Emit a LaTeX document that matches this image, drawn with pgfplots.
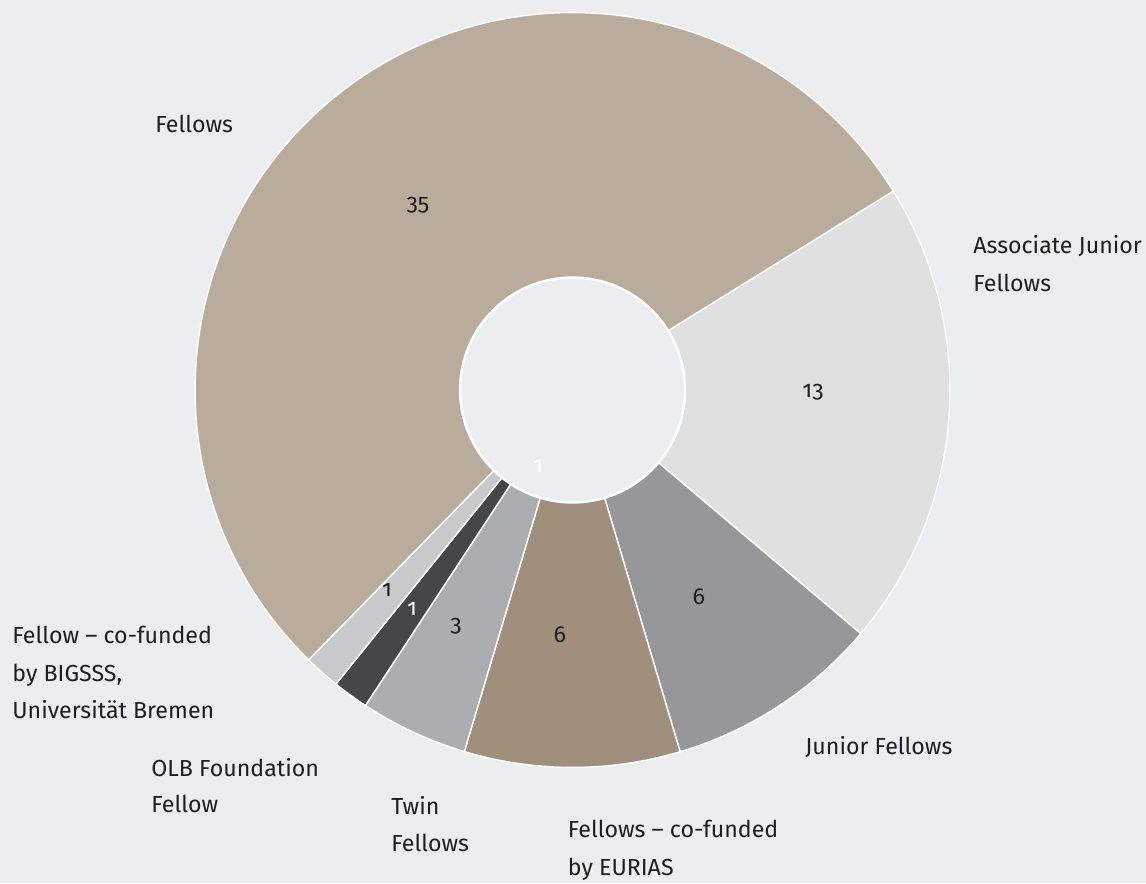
\documentclass[border=0pt]{standalone}
\usepackage{pgfplots}
\pgfplotsset{compat=1.18}
\usepackage{pgfplotstable}
\usepackage{fontspec}
\setmainfont{Fira Sans}[Numbers=OldStyle]

\definecolor{bgc}{HTML}{ECEDEE}
\definecolor{pie0}{HTML}{E0E0E1}% Associate Junior Fellows
\definecolor{pie1}{HTML}{96979A}% Junior Fellows
\definecolor{pie2}{HTML}{A08F7D}% EURIAS
\definecolor{pie3}{HTML}{ACADB0}% Twin
\definecolor{pie4}{HTML}{464648}% OLB
\definecolor{pie5}{HTML}{C8C9CB}% BIGSSS
\definecolor{pie6}{HTML}{B9AC9C}% Fellows
\definecolor{txt}{HTML}{1E1E1E}

\pgfplotstableread[col sep=comma]{
label,value
Associate Junior Fellows,13
Junior Fellows,6
Fellows co-funded by EURIAS,6
Twin Fellows,3
OLB Foundation Fellow,1
Fellow co-funded by BIGSSS,1
Fellows,35
}\piedata

\begin{document}
\fontsize{13.2}{20}\selectfont
\begin{tikzpicture}[font=\fontsize{13.2}{20}\selectfont]
% cumulative angles from the table values
\xdef\pietotal{0}
\foreach \i in {0,...,6}{%
  \pgfplotstablegetelem{\i}{value}\of\piedata
  \pgfmathsetmacro\tmp{\pietotal+\pgfplotsretval}%
  \xdef\pietotal{\tmp}%
}
\xdef\cumang{31.8}
\foreach \i in {0,...,6}{%
  \pgfplotstablegetelem{\i}{value}\of\piedata
  \pgfmathsetmacro\endang{\cumang-\pgfplotsretval*360/\pietotal}%
  \expandafter\xdef\csname sA\i\endcsname{\cumang}%
  \expandafter\xdef\csname eA\i\endcsname{\endang}%
  \xdef\cumang{\endang}%
}
\begin{axis}[
  x=0.02cm, y=0.02cm,
  xmin=0, xmax=1146, ymin=0, ymax=883,
  hide axis, clip=false,
]
\fill[bgc] (axis cs:0,0) rectangle (axis cs:1146,883);
\pgfplotsinvokeforeach{0,...,6}{%
  \filldraw[fill=pie#1, draw=white, line width=0.8pt, line join=round]
    (axis cs:572.5,493) -- ++(\csname sA#1\endcsname:7.55cm)
    arc[start angle=\csname sA#1\endcsname, end angle=\csname eA#1\endcsname, radius=7.55cm] -- cycle;
}
\filldraw[fill=bgc, draw=white, line width=1.4pt] (axis cs:572.5,493) circle[radius=2.25cm];

% value labels
\node[text=txt, inner sep=0pt] at (axis cs:418,678) {35};
\node[text=txt, inner sep=0pt] at (axis cs:813,491) {13};
\node[text=txt, inner sep=0pt] at (axis cs:699,286) {6};
\node[text=txt, inner sep=0pt] at (axis cs:560,248) {6};
\node[text=txt, inner sep=0pt] at (axis cs:456,257) {3};
\node[text=white, inner sep=0pt] at (axis cs:412,274) {1};
\node[text=txt, inner sep=0pt] at (axis cs:387,293) {1};
\node[text=white, inner sep=0pt] at (axis cs:538,417) {1};

% category labels (baselines)
\begin{scope}[every node/.style={anchor=base west, inner sep=0pt, text=txt}]
\node at (axis cs:155,750) {Fellows};
\node at (axis cs:973,629) {Associate Junior};
\node at (axis cs:973,591.3) {Fellows};
\node at (axis cs:805,129) {Junior Fellows};
\node at (axis cs:567.5,45.3) {Fellows – co-funded};
\node at (axis cs:567.5,8) {by EURIAS};
\node at (axis cs:391,69) {Twin};
\node at (axis cs:391,32) {Fellows};
\node at (axis cs:151,106.3) {OLB Foundation};
\node at (axis cs:151,70.7) {Fellow};
\node at (axis cs:12,239.7) {Fellow – co-funded};
\node at (axis cs:12,202) {by BIGSSS,};
\node at (axis cs:12,164.7) {Universität Bremen};
\end{scope}
\end{axis}
\pgfresetboundingbox
\path[use as bounding box] (current axis.south west) rectangle (current axis.north east);
\end{tikzpicture}
\end{document}
